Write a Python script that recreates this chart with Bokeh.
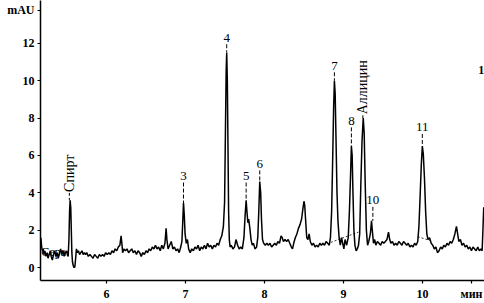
import math
from bokeh.plotting import figure
from bokeh.models import Range1d, FixedTicker, Label
from bokeh.core.properties import value
from bokeh.embed import file_html
from bokeh.resources import INLINE

# ---- chromatogram trace (time, min / absorbance, mAU) ----
time_min = [
    5.170, 5.180, 5.190, 5.200, 5.210, 5.220, 5.235, 5.250, 5.260, 5.275,
    5.290, 5.300, 5.315, 5.330, 5.345, 5.360, 5.375, 5.390, 5.405, 5.420,
    5.435, 5.450, 5.465, 5.480, 5.495, 5.505, 5.515, 5.525, 5.533, 5.540,
    5.548, 5.555, 5.562, 5.570, 5.580, 5.590, 5.600, 5.610, 5.620, 5.630,
    5.645, 5.660, 5.675, 5.690, 5.705, 5.720, 5.735, 5.750, 5.770, 5.790,
    5.810, 5.830, 5.850, 5.870, 5.890, 5.910, 5.930, 5.950, 5.970, 5.990,
    6.010, 6.030, 6.050, 6.070, 6.090, 6.110, 6.130, 6.150, 6.170, 6.185,
    6.195, 6.205, 6.220, 6.240, 6.260, 6.280, 6.300, 6.320, 6.340, 6.360,
    6.380, 6.400, 6.420, 6.440, 6.460, 6.480, 6.500, 6.520, 6.540, 6.560,
    6.580, 6.600, 6.620, 6.640, 6.660, 6.680, 6.700, 6.720, 6.740, 6.755,
    6.765, 6.780, 6.800, 6.820, 6.840, 6.860, 6.880, 6.900, 6.920, 6.940,
    6.955, 6.965, 6.975, 6.985, 6.995, 7.010, 7.025, 7.040, 7.060, 7.080,
    7.100, 7.120, 7.140, 7.160, 7.180, 7.200, 7.220, 7.240, 7.260, 7.280,
    7.300, 7.320, 7.340, 7.360, 7.380, 7.400, 7.420, 7.440, 7.460, 7.480,
    7.495, 7.505, 7.515, 7.522, 7.530, 7.538, 7.546, 7.555, 7.565, 7.580,
    7.600, 7.620, 7.640, 7.660, 7.680, 7.700, 7.720, 7.740, 7.755, 7.768,
    7.778, 7.790, 7.800, 7.815, 7.830, 7.845, 7.860, 7.880, 7.900, 7.915,
    7.928, 7.940, 7.952, 7.962, 7.975, 7.990, 8.010, 8.030, 8.050, 8.070,
    8.090, 8.110, 8.130, 8.150, 8.170, 8.190, 8.210, 8.225, 8.240, 8.260,
    8.280, 8.300, 8.320, 8.340, 8.355, 8.370, 8.390, 8.410, 8.430, 8.450,
    8.470, 8.485, 8.500, 8.510, 8.520, 8.535, 8.550, 8.565, 8.580, 8.600,
    8.620, 8.640, 8.660, 8.680, 8.700, 8.720, 8.740, 8.760, 8.780, 8.800,
    8.820, 8.835, 8.850, 8.862, 8.875, 8.885, 8.895, 8.905, 8.918, 8.930,
    8.945, 8.960, 8.975, 8.990, 9.005, 9.020, 9.040, 9.060, 9.075, 9.090,
    9.100, 9.110, 9.120, 9.132, 9.145, 9.160, 9.175, 9.190, 9.205, 9.220,
    9.235, 9.250, 9.262, 9.275, 9.290, 9.305, 9.320, 9.340, 9.355, 9.365,
    9.380, 9.395, 9.410, 9.430, 9.450, 9.470, 9.490, 9.510, 9.530, 9.550,
    9.570, 9.585, 9.600, 9.620, 9.640, 9.660, 9.680, 9.700, 9.720, 9.740,
    9.760, 9.780, 9.800, 9.820, 9.840, 9.860, 9.880, 9.900, 9.920, 9.940,
    9.955, 9.970, 9.985, 9.998, 10.010, 10.025, 10.040, 10.055, 10.070, 10.090,
    10.110, 10.130, 10.150, 10.170, 10.190, 10.210, 10.230, 10.250, 10.270, 10.290,
    10.310, 10.330, 10.350, 10.370, 10.390, 10.410, 10.430, 10.445, 10.460, 10.480,
    10.500, 10.520, 10.540, 10.560, 10.580, 10.600, 10.620, 10.640, 10.660, 10.680,
    10.700, 10.720, 10.740, 10.755, 10.765, 10.775, 10.785,
]
mau = [
    1.6, 1.1, 0.9, 1.0, 0.7, 0.9, 0.6, 0.8, 0.5, 0.7,
    0.9, 0.6, 0.4, 0.7, 0.9, 0.6, 0.8, 0.5, 0.8, 1.0,
    0.7, 0.9, 0.6, 0.8, 0.9, 0.7, 0.6, 1.5, 3.0, 3.6,
    3.2, 2.0, 0.8, 0.3, 0.1, 0.0, 0.05, 0.5, 1.0, 0.8,
    0.9, 0.7, 0.8, 0.9, 0.7, 0.8, 0.7, 0.8, 0.6, 0.7,
    0.6, 0.5, 0.7, 0.6, 0.5, 0.7, 0.6, 0.7, 0.6, 0.8,
    0.7, 0.8, 0.7, 0.9, 0.8, 1.0, 0.9, 1.1, 1.2, 1.7,
    1.3, 0.8, 1.0, 0.9, 1.0, 0.8, 0.9, 1.0, 0.8, 0.9,
    0.7, 0.9, 0.8, 0.6, 0.8, 0.7, 0.9, 0.8, 1.0, 0.9,
    1.1, 1.0, 1.2, 1.0, 1.1, 0.9, 1.2, 1.0, 1.3, 2.1,
    1.5, 1.0, 1.2, 1.4, 1.0, 1.1, 0.9, 1.0, 0.8, 1.1,
    1.4, 2.4, 3.45, 2.8, 1.8, 1.3, 1.5, 1.0, 0.8, 1.0,
    0.9, 1.1, 1.0, 1.2, 0.9, 1.1, 1.0, 1.2, 1.0, 1.3,
    1.1, 1.2, 1.0, 1.2, 1.1, 1.3, 1.2, 1.5, 1.7, 2.2,
    3.5, 7.0, 10.5, 11.5, 10.0, 6.5, 3.0, 1.5, 1.1, 1.2,
    1.0, 1.1, 1.5, 1.2, 1.0, 1.1, 1.0, 1.6, 2.8, 3.6,
    3.0, 2.4, 2.6, 2.1, 1.5, 1.2, 1.3, 1.0, 1.1, 1.6,
    3.0, 4.6, 4.0, 2.6, 1.5, 1.3, 1.2, 1.3, 1.2, 1.3,
    1.1, 1.2, 1.3, 1.2, 1.4, 1.3, 1.7, 1.6, 1.4, 1.5,
    1.4, 1.5, 1.3, 1.1, 1.0, 1.3, 1.6, 1.8, 2.1, 2.3,
    2.6, 3.1, 3.55, 3.3, 2.6, 1.6, 1.5, 1.8, 1.4, 1.2,
    1.3, 1.1, 1.2, 1.1, 1.3, 1.2, 1.3, 1.2, 1.4, 1.3,
    1.2, 1.6, 3.0, 5.5, 8.5, 10.0, 9.3, 7.0, 4.0, 2.5,
    1.6, 1.2, 1.6, 1.3, 1.0, 1.5, 1.2, 1.6, 3.0, 5.0,
    6.5, 6.0, 4.0, 2.0, 1.2, 0.9, 1.0, 1.2, 1.8, 4.5,
    6.8, 8.0, 7.2, 4.5, 2.0, 1.2, 1.4, 1.8, 2.5, 2.0,
    1.3, 1.5, 1.2, 1.4, 1.3, 1.2, 1.4, 1.3, 1.4, 1.5,
    1.9, 1.5, 1.3, 1.4, 1.2, 1.3, 1.2, 1.4, 1.3, 1.2,
    1.4, 1.3, 1.2, 1.3, 1.1, 1.2, 1.1, 1.3, 1.2, 1.4,
    2.2, 3.8, 5.5, 6.5, 6.1, 4.8, 3.0, 1.8, 1.5, 1.6,
    1.3, 1.2, 1.0, 1.1, 0.8, 0.9, 1.1, 1.0, 1.2, 1.1,
    1.3, 1.2, 1.4, 1.3, 1.5, 1.8, 2.2, 1.8, 1.4, 1.5,
    1.2, 1.3, 1.1, 1.2, 1.0, 1.1, 0.9, 1.1, 1.0, 0.9,
    1.1, 0.9, 1.0, 0.9, 2.0, 3.2, 3.2,
]

# ---- numbered peak labels ----
peak_names = ["3", "4", "5", "6", "7", "8", "10", "11"]
peak_t = [6.975, 7.522, 7.768, 7.940, 8.885, 9.100, 9.372, 9.998]
peak_h = [3.45, 11.5, 3.6, 4.6, 10.0, 6.5, 2.5, 6.5]
label_y = [4.9, 12.3, 4.9, 5.55, 10.8, 7.85, 3.6, 7.5]

# ---- named (rotated) peak labels ----
named_peaks = ["Спирт", "Аллицин"]
named_t = [5.530, 9.245]
named_h = [3.6, 8.0]
named_y = [4.0, 8.15]

# ---- integration baselines (dashed) ----
base_t0 = [8.84, 9.94]
base_y0 = [1.35, 1.65]
base_t1 = [9.19, 10.10]
base_y1 = [1.90, 1.45]

x_ticks = [6, 7, 8, 9, 10]
y_ticks = [0, 2, 4, 6, 8, 10, 12]
x_unit, x_unit_at = "мин", 10.62
y_unit, y_unit_at = "mAU", 13.76

SERIF = "Liberation Serif"

p = figure(width=484, height=303, output_backend="svg", toolbar_location=None,
           x_range=Range1d(5.165, 10.785), y_range=Range1d(-0.69, 14.29),
           min_border_left=40, min_border_right=0, min_border_top=0,
           min_border_bottom=22)
p.outline_line_color = None
p.xgrid.visible = False
p.ygrid.visible = False
p.background_fill_color = "white"
p.border_fill_color = "white"

for ax in (p.xaxis[0], p.yaxis[0]):
    ax.axis_line_width = 1.5
    ax.axis_line_color = "black"
    ax.major_tick_line_color = "black"
    ax.major_tick_line_width = 1.2
    ax.major_tick_out = 3
    ax.major_tick_in = 0
    ax.minor_tick_line_color = None
    ax.major_label_text_font = SERIF
    ax.major_label_text_font_style = "bold"
    ax.major_label_text_font_size = "12px"
    ax.major_label_text_color = "black"
    ax.major_label_standoff = 3

# unit captions sit on the axes as extra labelled ticks
p.xaxis.ticker = FixedTicker(ticks=x_ticks + [x_unit_at])
p.yaxis.ticker = FixedTicker(ticks=y_ticks + [y_unit_at])
p.xaxis.major_label_overrides = {x_unit_at: x_unit}
p.yaxis.major_label_overrides = {y_unit_at: y_unit}

# trace
p.line(time_min, mau, line_color="black", line_width=1.5)

# integration baselines
p.segment(base_t0, base_y0, base_t1, base_y1, line_color="black",
          line_width=0.8, line_dash="2 2")

# dashed leader lines from labels to peak tops
p.segment(peak_t, [v - 0.35 for v in label_y], peak_t, peak_h,
          line_color="black", line_width=1, line_dash="4 2")
p.segment(named_t, named_y, named_t, named_h,
          line_color="black", line_width=1, line_dash="3 2")

p.text(peak_t, label_y, text=peak_names, text_font=value(SERIF),
       text_font_size="13px", text_align="center", text_baseline="middle",
       text_color="black")
p.text(named_t, [v + 0.05 for v in named_y], text=named_peaks,
       text_font=value(SERIF), text_font_size="14px", text_align="left",
       text_baseline="middle", angle=math.pi / 2, text_color="black")

# other texts
p.add_layout(Label(x=5.175, y=0.85, text="Сера", text_font=SERIF,
                   text_font_size="12px", text_baseline="middle",
                   text_color="black"))
p.add_layout(Label(x=10.782, y=10.55, text="1", text_font=SERIF,
                   text_font_size="12px", text_font_style="bold",
                   text_align="right", text_baseline="middle",
                   text_color="black"))

open("out.html", "w").write(file_html(p, INLINE))
